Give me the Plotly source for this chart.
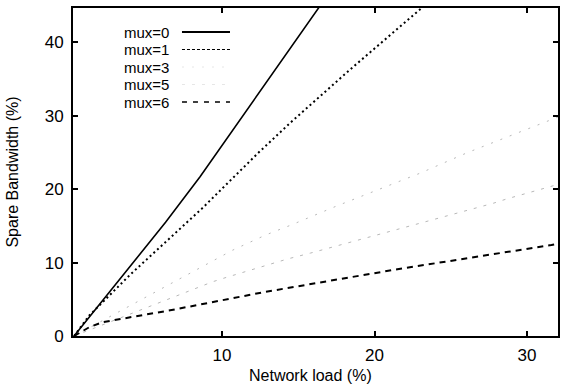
import plotly.graph_objects as go

# ---- data ----
series_names = ["mux=0", "mux=1", "mux=3", "mux=5", "mux=6"]

mux0_x = [0.3, 4.2, 6.3, 8.56, 12.4, 16.3, 16.6]
mux0_y = [0.0, 10.0, 15.5, 21.7, 33.1, 44.6, 45.5]

mux1_x = [0.3, 1.3, 4.0, 8.7, 12.4, 14.5, 18.5, 23.1, 23.6]
mux1_y = [0.0, 2.8, 8.4, 17.4, 25.0, 29.1, 36.5, 44.7, 45.6]

mux3_x = [0.3, 10.7, 12.9, 14.5, 17.5, 19.8, 23.0, 26.1, 31.2, 32.1]
mux3_y = [0.0, 11.7, 13.8, 15.1, 17.7, 19.6, 22.2, 25.0, 29.2, 29.9]

mux5_x = [0.3, 9.4, 10.3, 14.3, 15.8, 18.4, 19.9, 21.7, 23.6, 24.8, 27.8, 28.7, 32.1]
mux5_y = [0.0, 7.4, 8.0, 10.5, 11.3, 12.8, 13.6, 14.6, 15.7, 16.4, 18.1, 18.7, 20.7]

mux6_x = [0.3, 1.3, 2.2, 6.6, 12.8, 21.5, 31.6, 32.1]
mux6_y = [0.0, 1.2, 1.9, 3.5, 6.0, 9.1, 12.4, 12.6]

x_ticks = [10, 20, 30]
y_ticks = [0, 10, 20, 30, 40]

x_title = "Network load (%)"
y_title = "Spare Bandwidth (%)"

# ---- styles ----
styles = [
    dict(color="black", width=1.6, dash="solid"),
    dict(color="black", width=2.0, dash="2px,3px"),
    dict(color="#b8b8b8", width=1.0, dash="2px,8px"),
    dict(color="#b8b8b8", width=1.0, dash="3px,7px"),
    dict(color="black", width=2.0, dash="6px,5px"),
]
legend_styles = [
    dict(color="black", width=1.8, dash="solid"),
    dict(color="black", width=1.2, dash="3px,2px"),
    dict(color="#e6e6e6", width=1.0, dash="2px,8px"),
    dict(color="#e6e6e6", width=1.0, dash="3px,7px"),
    dict(color="black", width=1.5, dash="5px,6px"),
]
xs = [mux0_x, mux1_x, mux3_x, mux5_x, mux6_x]
ys = [mux0_y, mux1_y, mux3_y, mux5_y, mux6_y]

FONT = "Liberation Sans, Arial, Helvetica, sans-serif"

fig = go.Figure()
for name, x, y, st in zip(series_names, xs, ys, styles):
    fig.add_trace(go.Scatter(x=x, y=y, mode="lines", name=name, line=st,
                             showlegend=False))

# legend drawn gnuplot-style: right-aligned label, sample to the right
leg_y = [0.9268, 0.8735, 0.8201, 0.7668, 0.7134]
for name, ly, st in zip(series_names, leg_y, legend_styles):
    fig.add_annotation(xref="paper", yref="paper", x=0.2, y=ly, text=name,
                       showarrow=False, xanchor="right", yanchor="middle",
                       borderpad=0,
                       font=dict(family=FONT, size=15, color="black"))
    fig.add_shape(type="line", xref="paper", yref="paper",
                  x0=0.2247, x1=0.3237, y0=ly, y1=ly, line=st)

# x-axis title placed like gnuplot's
fig.add_annotation(xref="paper", yref="paper", x=0.49, y=-0.1204,
                   text=x_title, showarrow=False, xanchor="center",
                   yanchor="middle", borderpad=0,
                   font=dict(family=FONT, size=16, color="black"))

axis_common = dict(
    showgrid=False, zeroline=False, showline=True, linecolor="black",
    linewidth=2, mirror="allticks", ticks="inside", ticklen=5,
    tickwidth=1.5, tickcolor="black",
    tickfont=dict(family=FONT, size=17, color="black"),
)

fig.update_xaxes(range=[0.23, 32.03], tickvals=x_ticks,
                 ticktext=[str(v) for v in x_ticks],
                 ticklabelstandoff=3,
                 **axis_common)
fig.update_yaxes(range=[0, 44.7], tickvals=y_ticks,
                 ticktext=[str(v) for v in y_ticks],
                 title=dict(text=y_title, standoff=22,
                            font=dict(family=FONT, size=16, color="black")),
                 ticklabelstandoff=4,
                 **axis_common)

fig.update_layout(
    width=570, height=388,
    margin=dict(l=73, r=12, t=8, b=52, autoexpand=False),
    paper_bgcolor="white", plot_bgcolor="white",
    font=dict(family=FONT, size=16, color="black"),
)

fig.write_html("out.html")
